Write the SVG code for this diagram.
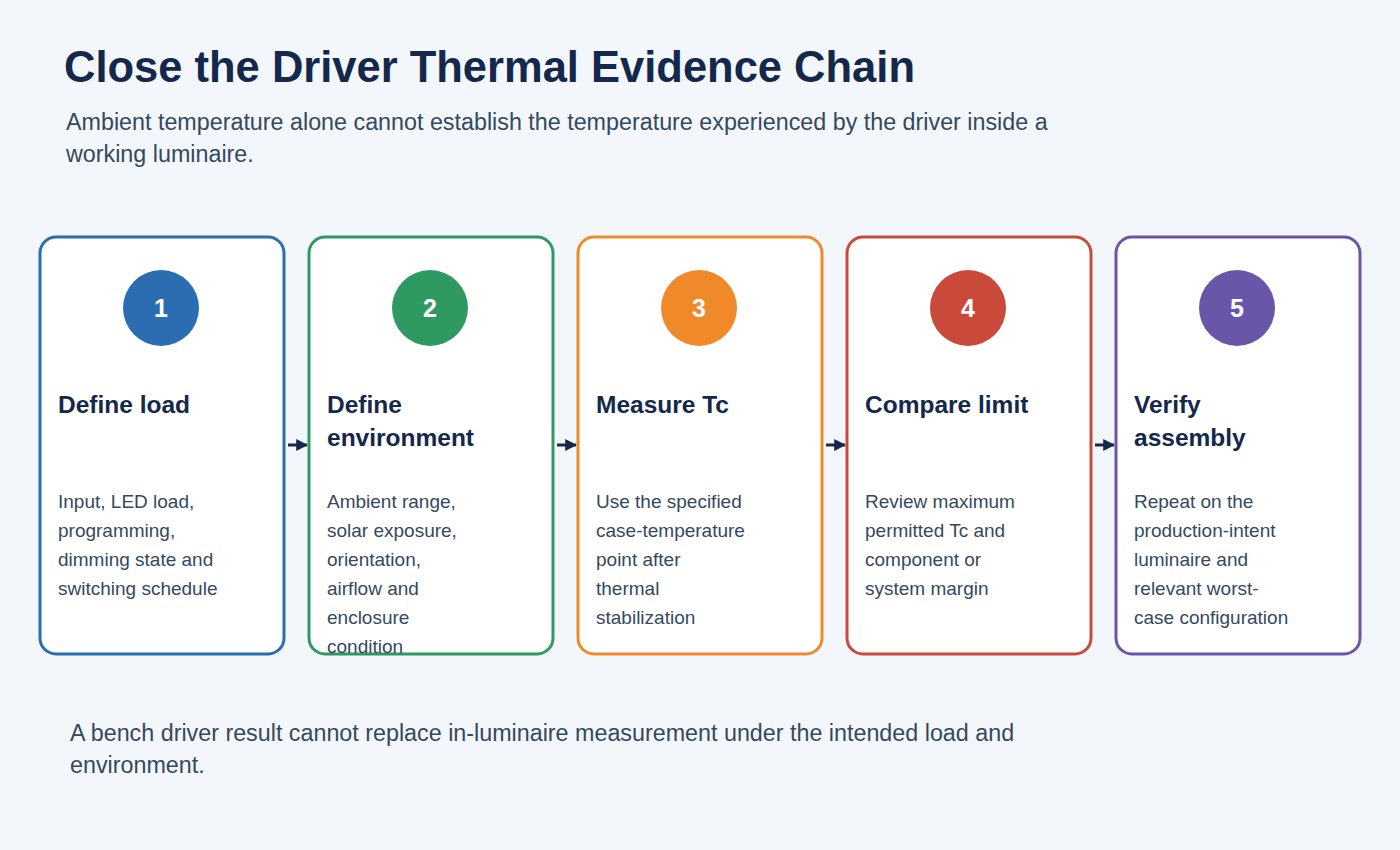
<svg xmlns="http://www.w3.org/2000/svg" width="1400" height="850" viewBox="0 0 1400 850">
<defs>
<style>
.card{fill:#fff;stroke-width:3}
.num{font:bold 25px "Liberation Sans",Arial,sans-serif;fill:#fff;text-anchor:middle}
.ttl{font:bold 24.5px "Liberation Sans",Arial,sans-serif;fill:#14284b}
.body{font:19px "Liberation Sans",Arial,sans-serif;fill:#34495e}
.sub{font:23.3px "Liberation Sans",Arial,sans-serif;fill:#34495e}
.arr{stroke:#14284b;stroke-width:3;fill:none}
</style>
<marker id="ah" viewBox="0 0 10 10" refX="9" refY="5" markerWidth="4" markerHeight="4" orient="auto"><path d="M0,0L10,5L0,10z" fill="#14284b"/></marker>
</defs>
<rect width="1400" height="850" fill="#f3f7fc"/>
<text x="64" y="82" style="font:bold 43.5px 'Liberation Sans',Arial,sans-serif;fill:#14284b">Close the Driver Thermal Evidence Chain</text>
<text class="sub" x="66" y="130">Ambient temperature alone cannot establish the temperature experienced by the driver inside a</text>
<text class="sub" x="66" y="162">working luminaire.</text>
<g id="connectors">
<line class="arr" x1="288" y1="445" x2="307" y2="445" marker-end="url(#ah)"/>
<line class="arr" x1="557" y1="445" x2="576" y2="445" marker-end="url(#ah)"/>
<line class="arr" x1="826" y1="445" x2="845" y2="445" marker-end="url(#ah)"/>
<line class="arr" x1="1095" y1="445" x2="1114" y2="445" marker-end="url(#ah)"/>
</g>
<g id="n1"><rect class="card" x="40" y="237" width="244" height="417" rx="16" stroke="#2a6db0"/><circle cx="161" cy="308" r="38" fill="#2a6db0"/><text class="num" x="161" y="317">1</text>
<text class="ttl" x="58" y="413">Define load</text>
<text class="body" x="58" y="508">Input, LED load,</text><text class="body" x="58" y="537">programming,</text><text class="body" x="58" y="566">dimming state and</text><text class="body" x="58" y="595">switching schedule</text></g>
<g id="n2"><rect class="card" x="309" y="237" width="244" height="417" rx="16" stroke="#2e9a62"/><circle cx="430" cy="308" r="38" fill="#2e9a62"/><text class="num" x="430" y="317">2</text>
<text class="ttl" x="327" y="413">Define</text><text class="ttl" x="327" y="446">environment</text>
<text class="body" x="327" y="508">Ambient range,</text><text class="body" x="327" y="537">solar exposure,</text><text class="body" x="327" y="566">orientation,</text><text class="body" x="327" y="595">airflow and</text><text class="body" x="327" y="624">enclosure</text><text class="body" x="327" y="653">condition</text></g>
<g id="n3"><rect class="card" x="578" y="237" width="244" height="417" rx="16" stroke="#f0892a"/><circle cx="699" cy="308" r="38" fill="#f0892a"/><text class="num" x="699" y="317">3</text>
<text class="ttl" x="596" y="413">Measure Tc</text>
<text class="body" x="596" y="508">Use the specified</text><text class="body" x="596" y="537">case-temperature</text><text class="body" x="596" y="566">point after</text><text class="body" x="596" y="595">thermal</text><text class="body" x="596" y="624">stabilization</text></g>
<g id="n4"><rect class="card" x="847" y="237" width="244" height="417" rx="16" stroke="#c94a3b"/><circle cx="968" cy="308" r="38" fill="#c94a3b"/><text class="num" x="968" y="317">4</text>
<text class="ttl" x="865" y="413">Compare limit</text>
<text class="body" x="865" y="508">Review maximum</text><text class="body" x="865" y="537">permitted Tc and</text><text class="body" x="865" y="566">component or</text><text class="body" x="865" y="595">system margin</text></g>
<g id="n5"><rect class="card" x="1116" y="237" width="244" height="417" rx="16" stroke="#6a56a8"/><circle cx="1237" cy="308" r="38" fill="#6a56a8"/><text class="num" x="1237" y="317">5</text>
<text class="ttl" x="1134" y="413">Verify</text><text class="ttl" x="1134" y="446">assembly</text>
<text class="body" x="1134" y="508">Repeat on the</text><text class="body" x="1134" y="537">production-intent</text><text class="body" x="1134" y="566">luminaire and</text><text class="body" x="1134" y="595">relevant worst-</text><text class="body" x="1134" y="624">case configuration</text></g>
<text class="sub" x="70" y="741">A bench driver result cannot replace in-luminaire measurement under the intended load and</text>
<text class="sub" x="70" y="773">environment.</text>
</svg>
